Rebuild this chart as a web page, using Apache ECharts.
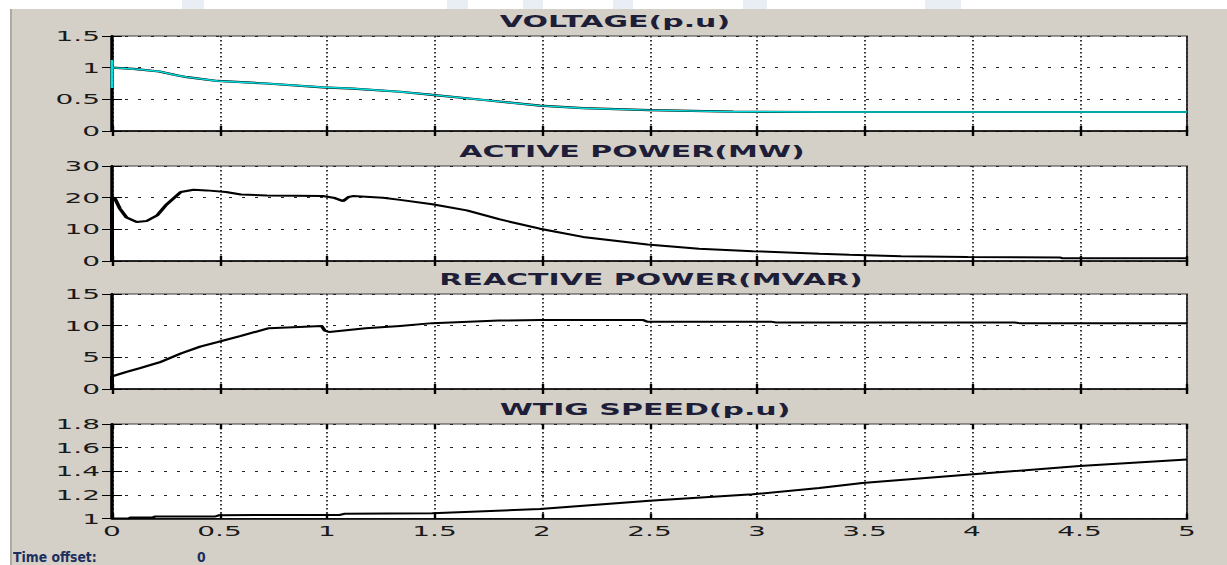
<!DOCTYPE html>
<html>
<head>
<meta charset="utf-8">
<script src="https://cdn.jsdelivr.net/npm/echarts@6/dist/echarts.min.js"></script>
<style>
  html, body { margin: 0; padding: 0; background: #ffffff; width: 1227px; height: 565px; overflow: hidden; }
  #bg { position: absolute; left: 10px; top: 9px; right: 0; bottom: 0; background: #d4d0c8; border-left: 2px solid #aeaaa2; }
  .wm { position: absolute; top: 0; height: 9px; background: #e8eef3; }
  #chart { position: absolute; left: 0; top: 0; width: 613.5px; height: 565px; transform: scaleX(2); transform-origin: 0 0; }
</style>
</head>
<body>
<div class="wm" style="left:182px;width:22px;"></div>
<div class="wm" style="left:447px;width:21px;"></div>
<div class="wm" style="left:523px;width:20px;"></div>
<div class="wm" style="left:613px;width:20px;"></div>
<div class="wm" style="left:743px;width:24px;"></div>
<div class="wm" style="left:925px;width:36px;"></div>
<div id="bg"></div>
<div id="chart"></div>
<script>
// ---- data (time in s) ----
const xTicks = [0, 0.5, 1, 1.5, 2, 2.5, 3, 3.5, 4, 4.5, 5];
const titles = ['VOLTAGE(p.u)', 'ACTIVE POWER(MW)', 'REACTIVE POWER(MVAR)', 'WTIG SPEED(p.u)'];
const yMin = [0, 0, 0, 1];
const yMax = [1.5, 30, 15, 1.8];
const yStep = [0.5, 10, 5, 0.2];

const voltageSpike = [[0, 0.68], [0, 1.12]];
const voltage = [[0, 1.0], [0.1, 0.98], [0.22, 0.94], [0.3, 0.88], [0.35, 0.85], [0.49, 0.79], [0.72, 0.75],
  [0.98, 0.69], [1.12, 0.67], [1.34, 0.62], [1.49, 0.57], [1.73, 0.49], [1.99, 0.40], [2.19, 0.36],
  [2.5, 0.33], [2.89, 0.305], [3.29, 0.30], [4, 0.30], [5, 0.30]];

const activePower = [[0, 0], [0, 20.2], [0.014, 19.7], [0.037, 16.5], [0.068, 13.7], [0.115, 12.3], [0.16, 12.6],
  [0.21, 14.4], [0.25, 17.6], [0.32, 21.8], [0.38, 22.5], [0.44, 22.3], [0.53, 21.8], [0.6, 21.0],
  [0.72, 20.7], [0.98, 20.5], [1.03, 20.0], [1.075, 18.9], [1.10, 20.2], [1.12, 20.5], [1.26, 20.0],
  [1.34, 19.3], [1.49, 17.9], [1.65, 16.0], [1.80, 13.2], [1.99, 10.2], [2.19, 7.6], [2.49, 5.2],
  [2.73, 3.9], [2.98, 3.1], [3.29, 2.3], [3.43, 2.0], [3.67, 1.5], [3.98, 1.3], [4.41, 1.1],
  [4.42, 0.85], [5, 0.85]];

const reactivePower = [[0, 0], [0, 2.0], [0.068, 2.7], [0.13, 3.3], [0.22, 4.2], [0.32, 5.6], [0.41, 6.7],
  [0.49, 7.4], [0.6, 8.4], [0.73, 9.6], [0.87, 9.8], [0.975, 9.95], [0.99, 9.2], [1.01, 9.0],
  [1.18, 9.6], [1.34, 9.95], [1.49, 10.4], [1.8, 10.8], [1.99, 10.9], [2.47, 10.9], [2.49, 10.6],
  [3.07, 10.6], [3.09, 10.5], [4.2, 10.5], [4.22, 10.4], [5, 10.4]];

const wtigSpeed = [[0, 1.0], [0.08, 1.0], [0.085, 1.008], [0.19, 1.008], [0.2, 1.017], [0.48, 1.017],
  [0.5, 1.028], [1.06, 1.03], [1.08, 1.04], [1.49, 1.045], [1.99, 1.08], [2.5, 1.15], [2.98, 1.205],
  [3.29, 1.258], [3.49, 1.30], [3.99, 1.372], [4.5, 1.444], [5, 1.50]];

// ---- layout (chart is drawn at half width, then stretched 2x horizontally like the scope screenshot) ----
const gridTops = [36, 166, 294, 424];
const gridH = [95, 95, 95, 94.5];
const titleCenters = [307.5, 316, 325.5, 322.5];
const titleTops = [14, 144, 272, 402];

const chart = echarts.init(document.getElementById('chart'), null, { renderer: 'svg' });

const grids = [], xAxes = [], yAxes = [], titleArr = [];
for (let i = 0; i < 4; i++) {
  grids.push({ left: 56, width: 537.5, top: gridTops[i], height: gridH[i], show: true,
    backgroundColor: '#ffffff', borderColor: '#3a3a3a', borderWidth: 1 });
  titleArr.push({ text: titles[i], left: titleCenters[i], top: titleTops[i], textAlign: 'center', padding: 0,
    textStyle: { fontFamily: 'DejaVu Sans', fontWeight: 'bold', fontSize: 15, color: '#1e1e38' } });
  xAxes.push({ type: 'value', gridIndex: i, min: xTicks[0], max: xTicks[xTicks.length - 1], interval: 0.5,
    axisLine: { show: true, onZero: false, lineStyle: { color: '#000', width: 1.5 } },
    axisTick: { show: true, inside: true, length: 5, lineStyle: { color: '#000', width: 1.2 } },
    splitLine: { show: true, lineStyle: { color: '#222', width: 0.9, type: [1.5, 2.5] } },
    axisLabel: { show: i === 3, margin: 5, fontFamily: 'DejaVu Sans', fontSize: 14, color: '#1a1a1a' } });
  xAxes.push({ type: 'value', gridIndex: i, position: 'top', min: xTicks[0], max: xTicks[xTicks.length - 1], interval: 0.5,
    axisLine: { show: false }, axisLabel: { show: false }, splitLine: { show: false },
    axisTick: { show: true, inside: true, length: 5, lineStyle: { color: '#000', width: 1.2 } } });
  yAxes.push({ type: 'value', gridIndex: i, min: yMin[i], max: yMax[i], interval: yStep[i],
    axisLine: { show: true, onZero: false, lineStyle: { color: '#000', width: 1.5 } },
    axisTick: { show: true, inside: true, length: 5, lineStyle: { color: '#000', width: 1 } },
    splitLine: { show: true, lineStyle: { color: '#222', width: 1, type: [1.5, 5] } },
    axisLabel: { margin: 6, fontFamily: 'DejaVu Sans', fontSize: 14, color: '#1a1a1a' } });
  yAxes.push({ type: 'value', gridIndex: i, position: 'right', min: yMin[i], max: yMax[i], interval: yStep[i],
    axisLine: { show: true, lineStyle: { color: '#000', width: 1.5 } }, axisLabel: { show: false }, splitLine: { show: false },
    axisTick: { show: true, inside: true, length: 5, lineStyle: { color: '#000', width: 1 } } });
}

function line(data, g, color, width, z) {
  return { type: 'line', xAxisIndex: g * 2, yAxisIndex: g * 2, data: data, showSymbol: false, symbol: 'none',
    lineStyle: { color: color, width: width }, itemStyle: { color: color }, z: z, silent: true, animation: false };
}

chart.setOption({
  animation: false,
  title: titleArr,
  grid: grids,
  xAxis: xAxes,
  yAxis: yAxes,
  graphic: [
    { type: 'text', x: 6.5, y: 557, scaleX: 0.46, silent: true,
      style: { text: 'Time offset:', fontFamily: 'DejaVu Sans', fontWeight: 'bold', fontSize: 13.5, fill: '#1c2f5e', verticalAlign: 'middle' } },
    { type: 'text', x: 98.5, y: 557, scaleX: 0.46, silent: true,
      style: { text: '0', fontFamily: 'DejaVu Sans', fontWeight: 'bold', fontSize: 13.5, fill: '#1c2f5e', verticalAlign: 'middle' } }
  ],
  series: [
    line(voltage, 0, '#000000', 2.2, 2),
    line(voltageSpike.concat(voltage), 0, '#00e0e0', 1.4, 3),
    line(activePower, 1, '#000000', 2, 2),
    line(reactivePower, 2, '#000000', 2, 2),
    line(wtigSpeed, 3, '#000000', 2, 2)
  ]
});
</script>
</body>
</html>
